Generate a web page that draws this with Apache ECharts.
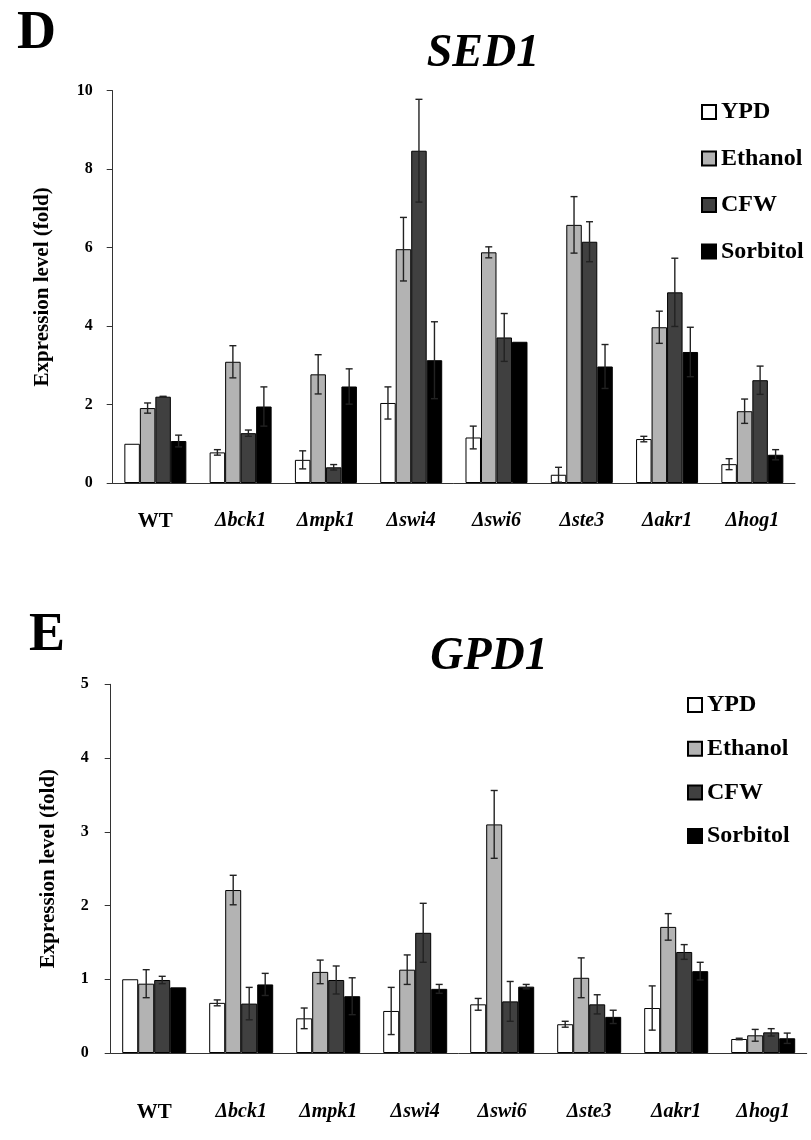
<!DOCTYPE html>
<html>
<head>
<meta charset="utf-8">
<script src="https://cdn.jsdelivr.net/npm/echarts@6/dist/echarts.min.js"></script>
<style>
  html, body { margin: 0; padding: 0; background: #fff; }
  #main { width: 811px; height: 1140px; }
</style>
</head>
<body>
<div id="main"></div>
<script>
var strains = ['WT', 'Δbck1', 'Δmpk1', 'Δswi4', 'Δswi6', 'Δste3', 'Δakr1', 'Δhog1']
var conditions = ['YPD', 'Ethanol', 'CFW', 'Sorbitol']
var colors = ['#ffffff', '#b3b3b3', '#404040', '#000000']

// SED1 (panel D)
var sedYPD = [1.0, 0.78, 0.59, 2.04, 1.16, 0.21, 1.12, 0.48]
var sedEthanol = [1.91, 3.09, 2.77, 5.96, 5.88, 6.58, 3.97, 1.83]
var sedCFW = [2.20, 1.27, 0.40, 8.47, 3.71, 6.15, 4.86, 2.62]
var sedSorbitol = [1.07, 1.95, 2.46, 3.13, 3.60, 2.97, 3.34, 0.72]
var sedYPDErr = [0, 0.07, 0.23, 0.41, 0.29, 0.19, 0.07, 0.14]
var sedEthanolErr = [0.13, 0.41, 0.50, 0.81, 0.14, 0.72, 0.41, 0.31]
var sedCFWErr = [0.01, 0.08, 0.07, 1.31, 0.61, 0.51, 0.87, 0.36]
var sedSorbitolErr = [0.15, 0.50, 0.45, 0.98, 0, 0.56, 0.63, 0.13]
var sedTicks = [0, 2, 4, 6, 8, 10]

// GPD1 (panel E)
var gpdYPD = [1.0, 0.68, 0.47, 0.57, 0.66, 0.39, 0.61, 0.19]
var gpdEthanol = [0.94, 2.21, 1.10, 1.13, 3.10, 1.02, 1.71, 0.24]
var gpdCFW = [0.99, 0.67, 0.99, 1.63, 0.70, 0.66, 1.37, 0.28]
var gpdSorbitol = [0.89, 0.93, 0.77, 0.87, 0.90, 0.49, 1.11, 0.20]
var gpdYPDErr = [0, 0.04, 0.14, 0.32, 0.08, 0.04, 0.30, 0.01]
var gpdEthanolErr = [0.19, 0.20, 0.16, 0.20, 0.46, 0.27, 0.18, 0.08]
var gpdCFWErr = [0.05, 0.22, 0.19, 0.40, 0.27, 0.13, 0.10, 0.05]
var gpdSorbitolErr = [0, 0.15, 0.25, 0.06, 0.03, 0.09, 0.12, 0.07]
var gpdTicks = [0, 1, 2, 3, 4, 5]

var FONT = '"Liberation Serif", "DejaVu Serif", serif'
var chart = echarts.init(document.getElementById('main'))

var sedValues = [sedYPD, sedEthanol, sedCFW, sedSorbitol]
var sedErrors = [sedYPDErr, sedEthanolErr, sedCFWErr, sedSorbitolErr]
var gpdValues = [gpdYPD, gpdEthanol, gpdCFW, gpdSorbitol]
var gpdErrors = [gpdYPDErr, gpdEthanolErr, gpdCFWErr, gpdSorbitolErr]
var barWidths = [15.5, 16]

function xAxisFor(gridIndex, margin) {
  return {
    type: 'category',
    gridIndex: gridIndex,
    data: strains,
    axisLine: {lineStyle: {color: '#333', width: 1}},
    axisTick: {show: false},
    axisLabel: {
      margin: margin,
      interval: 0,
      formatter: function (v) {
        return v === 'WT' ? '{n|' + v + '}' : '{i|' + v + '}'
      },
      rich: {
        n: {fontFamily: FONT, fontWeight: 'bold', fontSize: 21, color: '#000'},
        i: {fontFamily: FONT, fontWeight: 'bold', fontStyle: 'italic', fontSize: 20, color: '#000'}
      }
    }
  }
}

function yAxisFor(gridIndex, ticks, gap, margin) {
  return {
    type: 'value',
    gridIndex: gridIndex,
    min: ticks[0],
    max: ticks[ticks.length - 1],
    interval: ticks[1] - ticks[0],
    name: 'Expression level (fold)',
    nameLocation: 'middle',
    nameGap: gap,
    nameTextStyle: {fontFamily: FONT, fontWeight: 'bold', fontSize: 21, color: '#000'},
    splitLine: {show: false},
    axisLine: {show: true, lineStyle: {color: '#333', width: 1}},
    axisTick: {show: true, inside: false, length: 6, lineStyle: {color: '#333'}},
    axisLabel: {margin: margin, fontFamily: FONT, fontWeight: 'bold', fontSize: 16, color: '#000'}
  }
}

var series = []
function addPanel(gridIndex, values, errors) {
  var bw = barWidths[gridIndex]
  conditions.forEach(function (name, i) {
    series.push({
      name: name,
      type: 'bar',
      xAxisIndex: gridIndex,
      yAxisIndex: gridIndex,
      barWidth: bw,
      barGap: '0%',
      itemStyle: {color: colors[i], borderColor: '#000', borderWidth: 1},
      data: values[i]
    })
  })
  var errData = []
  conditions.forEach(function (name, i) {
    values[i].forEach(function (v, k) {
      errData.push([k, i, v, errors[i][k]])
    })
  })
  series.push({
    name: 'err',
    type: 'custom',
    xAxisIndex: gridIndex,
    yAxisIndex: gridIndex,
    z: 5,
    encode: {x: 0, y: 2},
    data: errData,
    renderItem: function (params, api) {
      var k = api.value(0), i = api.value(1), v = api.value(2), e = api.value(3)
      if (!(e > 0)) return null
      var x = api.coord([k, 0])[0] + (i - 1.5) * bw
      var yt = api.coord([k, v + e])[1]
      var yb = api.coord([k, Math.max(v - e, 0)])[1]
      var cap = 3.5
      var st = {stroke: '#222', lineWidth: 1.4}
      return {
        type: 'group',
        children: [
          {type: 'line', shape: {x1: x, y1: yt, x2: x, y2: yb}, style: st},
          {type: 'line', shape: {x1: x - cap, y1: yt, x2: x + cap, y2: yt}, style: st},
          {type: 'line', shape: {x1: x - cap, y1: yb, x2: x + cap, y2: yb}, style: st}
        ]
      }
    }
  })
}
addPanel(0, sedValues, sedErrors)
addPanel(1, gpdValues, gpdErrors)

function legendFor(left, top, gap) {
  return {
    data: conditions,
    orient: 'vertical',
    left: left,
    top: top,
    padding: 0,
    icon: 'rect',
    itemWidth: 14,
    itemHeight: 14,
    itemGap: gap,
    selectedMode: false,
    textStyle: {fontFamily: FONT, fontWeight: 'bold', fontSize: 24, color: '#000'}
  }
}

chart.setOption({
  animation: false,
  backgroundColor: '#fff',
  title: [
    {text: 'D', left: 12, top: 2, textStyle: {fontFamily: FONT, fontWeight: 'bold', fontSize: 54, color: '#000'}},
    {text: 'SED1', left: 478, textAlign: 'center', top: 26, textStyle: {fontFamily: FONT, fontWeight: 'bold', fontStyle: 'italic', fontSize: 46, color: '#000'}},
    {text: 'E', left: 24, top: 604, textStyle: {fontFamily: FONT, fontWeight: 'bold', fontSize: 54, color: '#000'}},
    {text: 'GPD1', left: 484, textAlign: 'center', top: 629, textStyle: {fontFamily: FONT, fontWeight: 'bold', fontStyle: 'italic', fontSize: 46, color: '#000'}}
  ],
  legend: [legendFor(701, 100, 22.5), legendFor(687, 693, 19.7)],
  grid: [
    {left: 112.7, right: 16, top: 90.7, bottom: 657},
    {left: 110.7, right: 4.3, top: 684.3, bottom: 87}
  ],
  xAxis: [xAxisFor(0, 28), xAxisFor(1, 49)],
  yAxis: [yAxisFor(0, sedTicks, 60, 20), yAxisFor(1, gpdTicks, 52, 22)],
  series: series
})
</script>
</body>
</html>
